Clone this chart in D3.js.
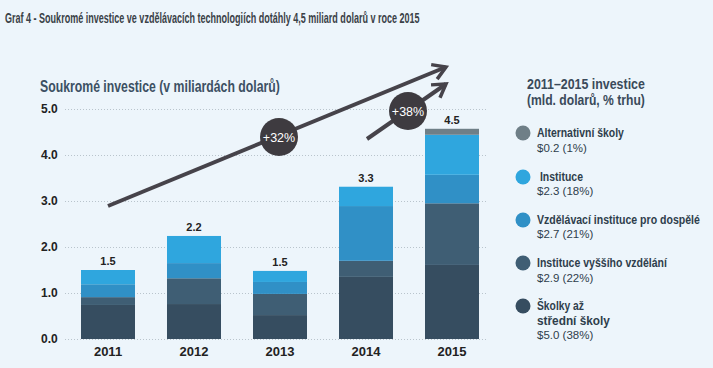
<!DOCTYPE html>
<html><head><meta charset="utf-8">
<script src="https://cdn.jsdelivr.net/npm/d3@7/dist/d3.min.js"></script>
<style>
html,body{margin:0;padding:0;background:#edf5fb;}
svg{display:block;}
</style></head>
<body>
<svg id="chart" width="713" height="368"></svg>
<script>
const years = ["2011","2012","2013","2014","2015"];
const k12 =        [0.74, 0.76, 0.52, 1.35, 1.61];
const higherEd =   [0.17, 0.56, 0.46, 0.35, 1.34];
const adultEd =    [0.28, 0.33, 0.26, 1.19, 0.62];
const institutions=[0.31, 0.59, 0.24, 0.42, 0.87];
const altSchools = [0.00, 0.00, 0.00, 0.00, 0.13];
const totalLabels = ["1.5","2.2","1.5","3.3","4.5"];
const yTicks = [0,1,2,3,4,5];
const legendNames = [["Alternativní školy"],[" Instituce"],["Vzdělávací instituce pro dospělé"],["Instituce vyššího vzdělání"],["Školky až","střední školy"]];
const legendValues = ["$0.2 (1%)","$2.3 (18%)","$2.7 (21%)","$2.9 (22%)","$5.0 (38%)"];
const growthLabels = ["+32%","+38%"];
const colors = ["#364d60","#3f5e74","#3090c6","#2fa6de","#6f7f87"];

const svg = d3.select("#chart");
const x = d3.scaleBand().domain(years).range([65,495]).paddingInner(32/86).paddingOuter(0.186);
const y = d3.scaleLinear().domain([0,5]).range([339,109]);

const narrow = "'Liberation Sans Narrow','Arial Narrow','Liberation Sans',Arial,sans-serif";
const sans = "'Liberation Sans',Arial,sans-serif";

// Place text at (tx,ty) and squeeze it horizontally to width w (only if wider)
function squeezed(parent, tx, ty, txt, w, size, weight, fill){
  const g = parent.append("g").attr("transform",`translate(${tx},${ty})`);
  const t = g.append("text").attr("x",0).attr("y",0).attr("font-family",narrow).attr("font-weight",weight)
    .attr("font-size",size).attr("fill",fill).attr("xml:space","preserve").style("white-space","pre").text(txt);
  const len = t.node().getComputedTextLength();
  if (len > w) t.attr("transform",`scale(${w/len},1)`);
  return t;
}

// Title
squeezed(svg,5,23,"Graf 4 - Soukromé investice ve vzdělávacích technologiích dotáhly 4,5 miliard dolarů v roce 2015",415,15.5,"bold","#3a4147");

// Subtitle
squeezed(svg,40,92,"Soukromé investice (v miliardách dolarů)",240,16,"bold","#3c5063");

// Gridlines
svg.append("g").selectAll("line").data(yTicks).join("line")
  .attr("x1",65).attr("x2",486).attr("y1",d=>y(d)+0.5).attr("y2",d=>y(d)+0.5)
  .attr("stroke","#b9c4cc").attr("stroke-width",1).attr("stroke-dasharray","1,2");

// Y axis labels
const yAxis = d3.axisLeft(y).tickValues(yTicks).tickFormat(d3.format(".1f")).tickSize(0).tickPadding(0);
const ya = svg.append("g").attr("transform","translate(41,0)").call(yAxis);
ya.select(".domain").remove();
ya.selectAll("text").attr("x",0).attr("text-anchor","start").attr("font-family",sans).attr("font-weight","bold")
  .attr("font-size",12).attr("fill","#222");

// Stacks
const rows = years.map((yr,i)=>({year:yr,k12:k12[i],higher:higherEd[i],adult:adultEd[i],inst:institutions[i],alt:altSchools[i]}));
const keys = ["k12","higher","adult","inst","alt"];
const stacked = d3.stack().keys(keys)(rows);
svg.append("g").selectAll("g").data(stacked).join("g").attr("fill",(d,i)=>colors[i])
  .selectAll("rect").data(d=>d).join("rect")
  .attr("x",d=>x(d.data.year)).attr("width",x.bandwidth())
  .attr("y",d=>y(d[1])).attr("height",d=>Math.max(0,y(d[0])-y(d[1])));

// Total labels
svg.append("g").selectAll("text").data(rows).join("text")
  .attr("x",d=>x(d.year)+x.bandwidth()/2)
  .attr("y",d=>y(d.k12+d.higher+d.adult+d.inst+d.alt)-5)
  .attr("text-anchor","middle").attr("font-family",sans).attr("font-weight","bold")
  .attr("font-size",11).attr("fill","#222").text((d,i)=>totalLabels[i]);

// X axis labels
const xAxis = d3.axisBottom(x).tickSize(0).tickPadding(0);
const xa = svg.append("g").attr("transform","translate(0,347)").call(xAxis);
xa.select(".domain").remove();
xa.selectAll("text").attr("dy","0.71em").attr("font-family",sans).attr("font-weight","bold")
  .attr("font-size",13).attr("fill","#222");

// Arrows
const arrowColor = "#46434a";
function arrow(x1,y1,x2,y2){
  const g = svg.append("g");
  g.append("line").attr("x1",x1).attr("y1",y1).attr("x2",x2).attr("y2",y2)
    .attr("stroke",arrowColor).attr("stroke-width",4).attr("stroke-linecap","butt");
  const ang = Math.atan2(y2-y1,x2-x1);
  const L = 15, spread = 0.55;
  const p1 = [x2 - L*Math.cos(ang-spread), y2 - L*Math.sin(ang-spread)];
  const p2 = [x2 - L*Math.cos(ang+spread), y2 - L*Math.sin(ang+spread)];
  g.append("path").attr("d",`M${p1[0]},${p1[1]}L${x2},${y2}L${p2[0]},${p2[1]}`)
    .attr("fill","none").attr("stroke",arrowColor).attr("stroke-width",3.5).attr("stroke-linejoin","miter");
}
arrow(108,206,446,67);
arrow(367,139,446,84);

// Growth circles
const circles = [[279,137],[408,111]];
svg.append("g").selectAll("g").data(circles).join("g").each(function(d,i){
  const g = d3.select(this);
  g.append("circle").attr("cx",d[0]).attr("cy",d[1]).attr("r",19).attr("fill","#3e3b40");
  g.append("text").attr("x",d[0]).attr("y",d[1]+4.5).attr("text-anchor","middle")
    .attr("font-family",sans).attr("font-size",12.5).attr("fill","#fff").text(growthLabels[i]);
});

// Legend
const lg = svg.append("g");
squeezed(lg,527,89,"2011–2015 investice",118,15,"bold","#3a4a5a");
squeezed(lg,527,105,"(mld. dolarů, % trhu)",118,15,"bold","#3a4a5a");

const legendItems = [
  {c:4, cy:133, widths:[87], vy:152},
  {c:3, cy:177, widths:[46], vy:195},
  {c:2, cy:220, widths:[163], vy:238},
  {c:1, cy:263, widths:[130], vy:282},
  {c:0, cy:306, widths:[47,73], vy:339}
];
legendItems.forEach((it,idx)=>{
  lg.append("circle").attr("cx",523).attr("cy",it.cy).attr("r",7.5).attr("fill",colors[it.c]);
  legendNames[idx].forEach((ln,k)=>{
    squeezed(lg,537,it.cy+4+k*15,ln,it.widths[k],13,"bold","#2f3e4c");
  });
  lg.append("text").attr("x",537).attr("y",it.vy).attr("font-family",sans)
    .attr("font-size",11.5).attr("fill","#2f3e4c").text(legendValues[idx]);
});
</script>
</body></html>
